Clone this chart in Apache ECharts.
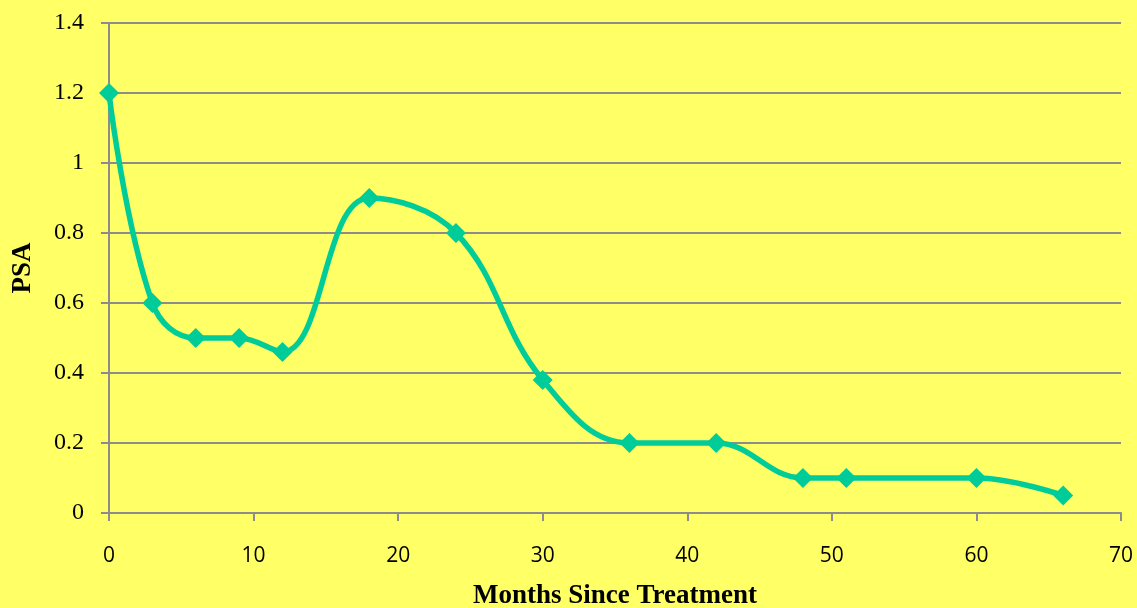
<!DOCTYPE html>
<html><head><meta charset="utf-8">
<script src="https://cdn.jsdelivr.net/npm/echarts@6/dist/echarts.min.js"></script>
<style>html,body{margin:0;padding:0;background:#FFFF66;}#c{width:1137px;height:608px;}</style>
</head><body><div id="c"></div>
<script>
const months = [0, 3, 6, 9, 12, 18, 24, 30, 36, 42, 48, 51, 60, 66];
const psa = [1.2, 0.6, 0.5, 0.5, 0.46, 0.9, 0.8, 0.38, 0.2, 0.2, 0.1, 0.1, 0.1, 0.05];
const xTitle = 'Months Since Treatment';
const yTitle = 'PSA';

const chart = echarts.init(document.getElementById('c'));
chart.setOption({
  backgroundColor: '#FFFF66',
  animation: false,
  grid: {left: 109, right: 16, top: 23, bottom: 95, containLabel: false, outerBoundsMode: 'none'},
  xAxis: {
    type: 'value', min: 0, max: 70, interval: 10,
    name: xTitle, nameLocation: 'middle', nameGap: 70,
    nameTextStyle: {fontFamily: 'Liberation Serif', fontWeight: 'bold', fontSize: 27, color: '#000'},
    axisLine: {onZero: false, lineStyle: {color: '#8C8C8C', width: 2}},
    axisTick: {show: true, length: 8, lineStyle: {color: '#8C8C8C', width: 2}},
    axisLabel: {fontFamily: 'Open Sans', fontSize: 21, color: '#000', margin: 33},
    splitLine: {show: false}
  },
  yAxis: {
    type: 'value', min: 0, max: 1.4, interval: 0.2,
    name: yTitle, nameLocation: 'middle', nameGap: 72, nameRotate: 90,
    nameTextStyle: {fontFamily: 'Liberation Serif', fontWeight: 'bold', fontSize: 27, color: '#000'},
    axisLine: {show: true, lineStyle: {color: '#8C8C8C', width: 2}},
    axisTick: {show: true, length: 8, lineStyle: {color: '#8C8C8C', width: 2}},
    axisLabel: {fontFamily: 'Liberation Serif', fontSize: 24, color: '#000', margin: 25,
      formatter: v => String(Math.round(v * 10) / 10)},
    splitLine: {show: true, lineStyle: {color: '#8C8C8C', width: 2}}
  },
  series: [{
    type: 'line',
    data: months.map((m, i) => [m, psa[i]]),
    smooth: 0.4,
    symbol: 'diamond', symbolSize: 20,
    lineStyle: {color: '#00CC99', width: 5.5},
    itemStyle: {color: '#00CC99'}
  }]
});
</script></body></html>
